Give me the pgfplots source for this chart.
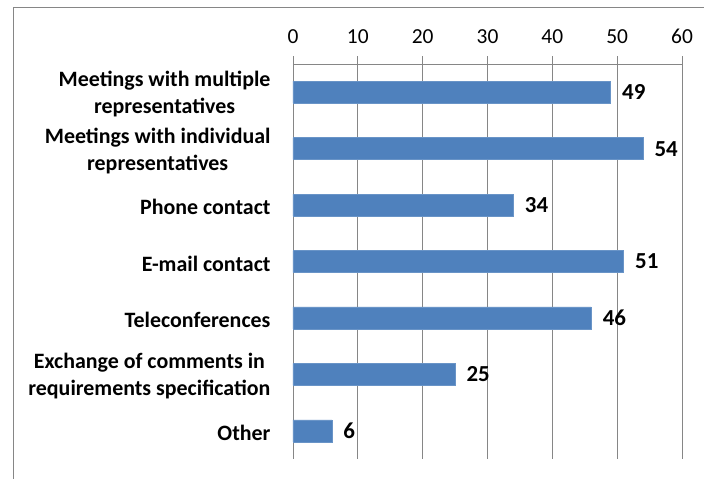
\documentclass[border=0pt]{standalone}
\usepackage{pgfplots}
\pgfplotsset{compat=1.18}
\usepackage{fontspec}
\setmainfont{Carlito}
\definecolor{barblue}{HTML}{4F81BD}
\definecolor{gridgray}{HTML}{868686}
\begin{document}
\begin{tikzpicture}
\begin{axis}[
    at={(0,0)}, anchor=south west,
    scale only axis,
    width=389bp, height=395bp,
    xbar, bar width=22bp,
    xmin=0, xmax=60,
    ymin=-0.5, ymax=6.5,
    y dir=reverse,
    axis x line*=top,
    axis y line*=left,
    axis line style={gridgray, line width=0.8pt},
    xtick={0,10,...,60},
    xmajorgrids=true,
    grid style={gridgray, line width=0.8pt},
    tick style={gridgray, line width=0.8pt},
    tick align=outside,
    major tick length=8bp,
    x tick label style={font=\fontsize{21.5}{25}\selectfont, yshift=9bp},
    /pgf/number format/assume math mode=true,
    ytick={0,...,6},
    y tick label style={font=\fontsize{22}{27}\selectfont\bfseries, align=center, xshift=-11bp, yshift=-2bp},
    ytick style={draw=none},
    minor ytick={-0.5,0.5,...,6.5},
    minor tick length=7bp,
    minor tick style={gridgray, line width=0.8pt},
    yticklabels={
        {Meetings with multiple\\representatives},
        {Meetings with individual\\representatives},
        {Phone contact},
        {E-mail contact},
        {Teleconferences},
        {Exchange of comments in\\requirements specification},
        {Other}},
    nodes near coords,
    every node near coord/.append style={font=\fontsize{23}{27}\selectfont\bfseries, black, anchor=west, xshift=8bp},
    clip=false,
]
\addplot[fill=barblue, draw=barblue!85!white] coordinates {
    (49,0) (54,1) (34,2) (51,3) (46,4) (25,5) (6,6)};
\end{axis}
\draw[gridgray, line width=0.8pt] (-280bp,-60bp) rectangle (460bp,452bp);
\pgfresetboundingbox
\path[use as bounding box] (-293bp,-20bp) rectangle (411bp,459bp);
\end{tikzpicture}
\end{document}
